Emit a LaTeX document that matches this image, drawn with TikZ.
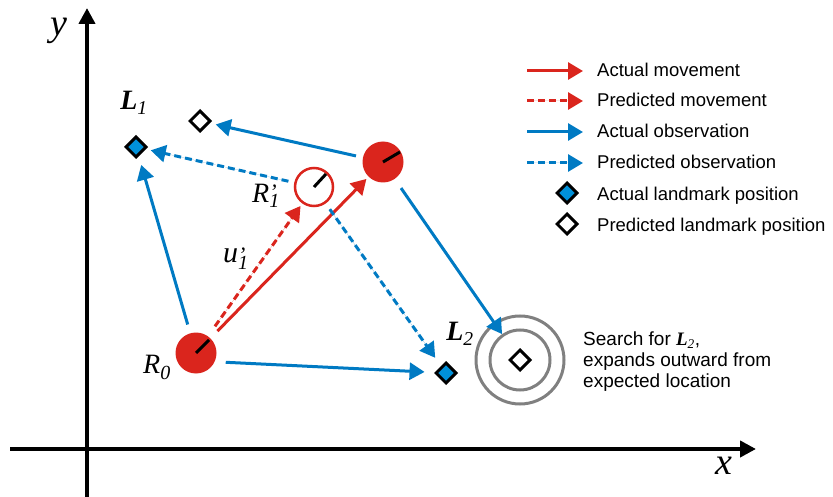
\documentclass[tikz,border=0pt]{standalone}
\usepackage{fontspec}
\setmainfont{Liberation Serif}
\newfontfamily\legendfont{Liberation Sans}
\usetikzlibrary{arrows.meta,shapes.geometric,positioning}

\definecolor{movered}{RGB}{218,37,29}
\definecolor{obsblue}{RGB}{0,122,195}
\definecolor{markblue}{RGB}{0,145,218}
\definecolor{ringgray}{RGB}{128,128,128}

% symbol with a prime above and an index below
\newcommand{\primedsub}[4]{#1\makebox[0pt][l]{\raisebox{#3}{\fontsize{22}{22}\selectfont ’}}\raisebox{#4}{\fontsize{20}{20}\selectfont #2}}

\tikzset{
  tip/.style={-{Triangle[length=15pt,width=17pt]}},
  move/.style={tip, draw=movered, fill=movered, line width=3pt},
  obs/.style={tip, draw=obsblue, fill=obsblue, line width=3pt},
  guess/.style={dash pattern=on 7pt off 4pt},
  axis/.style={line width=4.5pt, -{Triangle[length=16pt,width=16pt]}},
  robot/.style={circle, fill=movered, minimum size=41pt, inner sep=0pt},
  ghost/.style={circle, draw=movered, line width=2.5pt, minimum size=38pt, inner sep=0pt},
  heading/.style={line width=3pt},
  landmark/.style={diamond, draw=black, line width=3pt, fill=markblue, minimum size=21pt, inner sep=0pt},
  guessmark/.style={landmark, fill=white},
  ring/.style={circle, draw=ringgray, line width=3pt, inner sep=0pt},
  lbl/.style={font=\fontsize{28}{30}\selectfont\itshape, inner sep=0pt},
  axislbl/.style={font=\fontsize{38}{40}\selectfont\itshape, inner sep=0pt},
  legtext/.style={font=\legendfont\fontsize{18.5}{22}\selectfont, anchor=base west, inner sep=0pt},
  note/.style={font=\legendfont\fontsize{19}{21}\selectfont, align=left, anchor=north west, inner sep=0pt},
}

\begin{document}
\begin{tikzpicture}[x=1pt,y=-1pt]
  \useasboundingbox (0,0) rectangle (833,497);

  % axes
  \coordinate (yfoot) at (87,497); \coordinate (yhead) at (87,8);
  \coordinate (xfoot) at (10,449); \coordinate (xhead) at (756,449);
  \draw[axis] (yfoot) -- (yhead); \node[axislbl] (ylbl) at (59,31) {y};
  \draw[axis] (xfoot) -- (xhead); \node[axislbl] (xlbl) at (724,466) {x};

  % search rings round the expected landmark
  \node[guessmark] (l2p) at (520,360) {};
  \node[ring, minimum size=60pt] (near) at (l2p) {};
  \node[ring, minimum size=88pt] (far) at (l2p) {};

  % robot poses
  \node[robot] (r0) at (196,353) {};
  \node[robot] (r1) at (383,162) {};
  \node[ghost] (r1p) at (314,187) {};
  \draw[heading] (r0.center) -- ++(13,-13);
  \draw[heading] (r1.center) -- ++(17,-10);
  \draw[heading] (r1p.center) -- ++(12,-13);

  % landmarks
  \node[landmark] (l1) at (136,147) {};
  \node[landmark] (l2) at (446,373) {};
  \node[guessmark] (l1p) at (200,121) {};

  % movement
  \draw[move, shorten <=10pt, shorten >=3pt] (r0) -- (r1);
  \draw[move, guess, shorten <=12pt, shorten >=3pt] (r0) -- (r1p);

  % observations
  \draw[obs, shorten <=9pt, shorten >=9pt] (r0) -- (l1);
  \draw[obs, shorten <=11pt, shorten >=10pt] (r0.-25) -- (l2);
  \draw[obs, shorten <=7pt, shorten >=6pt] (r1) -- (l1p);
  \draw[obs, shorten <=11pt] (r1) -- (near);
  \draw[obs, guess, shorten <=6pt, shorten >=5pt] (r1p) -- (l1);
  \draw[obs, guess, shorten <=7pt, shorten >=10pt] (r1p) -- (l2);

  % labels
  \node[lbl] (l1lbl) at (134,103) {\textbf{L}\textsubscript{1}};
  \node[lbl] (l2lbl) at (460,334) {\textbf{L}\textsubscript{2}};
  \node[lbl, anchor=base west] (r0lbl) at (143,373) {R\raisebox{-6pt}{\fontsize{20}{20}\selectfont 0}};
  \node[lbl, anchor=base west] (r1plbl) at (252,203) {\primedsub{R}{1}{3pt}{-5pt}};
  \node[lbl, anchor=base west, font=\fontsize{30}{30}\selectfont\itshape] (ulbl) at (223,262) {\primedsub{u}{1}{0pt}{-7pt}};

  \node[note] (search) at (583,332) {Search for {\rmfamily\bfseries\itshape L}\textsubscript{\rmfamily\itshape 2},\\expands outward from\\expected location};

  % legend
  \coordinate (k1a) at (527,71); \coordinate (k1b) at (583,71);
  \draw[move] (k1a) -- (k1b);
  \node[legtext] (k1) at (597,77) {Actual movement};
  \coordinate (k2a) at (527,101); \coordinate (k2b) at (583,101);
  \draw[move, guess] (k2a) -- (k2b);
  \node[legtext] (k2) at (597,107) {Predicted movement};
  \coordinate (k3a) at (527,132); \coordinate (k3b) at (583,132);
  \draw[obs] (k3a) -- (k3b);
  \node[legtext] (k3) at (597,138) {Actual observation};
  \coordinate (k4a) at (527,163); \coordinate (k4b) at (583,163);
  \draw[obs, guess] (k4a) -- (k4b);
  \node[legtext] (k4) at (597,169) {Predicted observation};
  \node[landmark] (k5m) at (567,193) {};
  \node[legtext] (k5) at (597,201) {Actual landmark position};
  \node[guessmark] (k6m) at (567,224) {};
  \node[legtext] (k6) at (597,232) {Predicted landmark position};
\end{tikzpicture}
\end{document}
